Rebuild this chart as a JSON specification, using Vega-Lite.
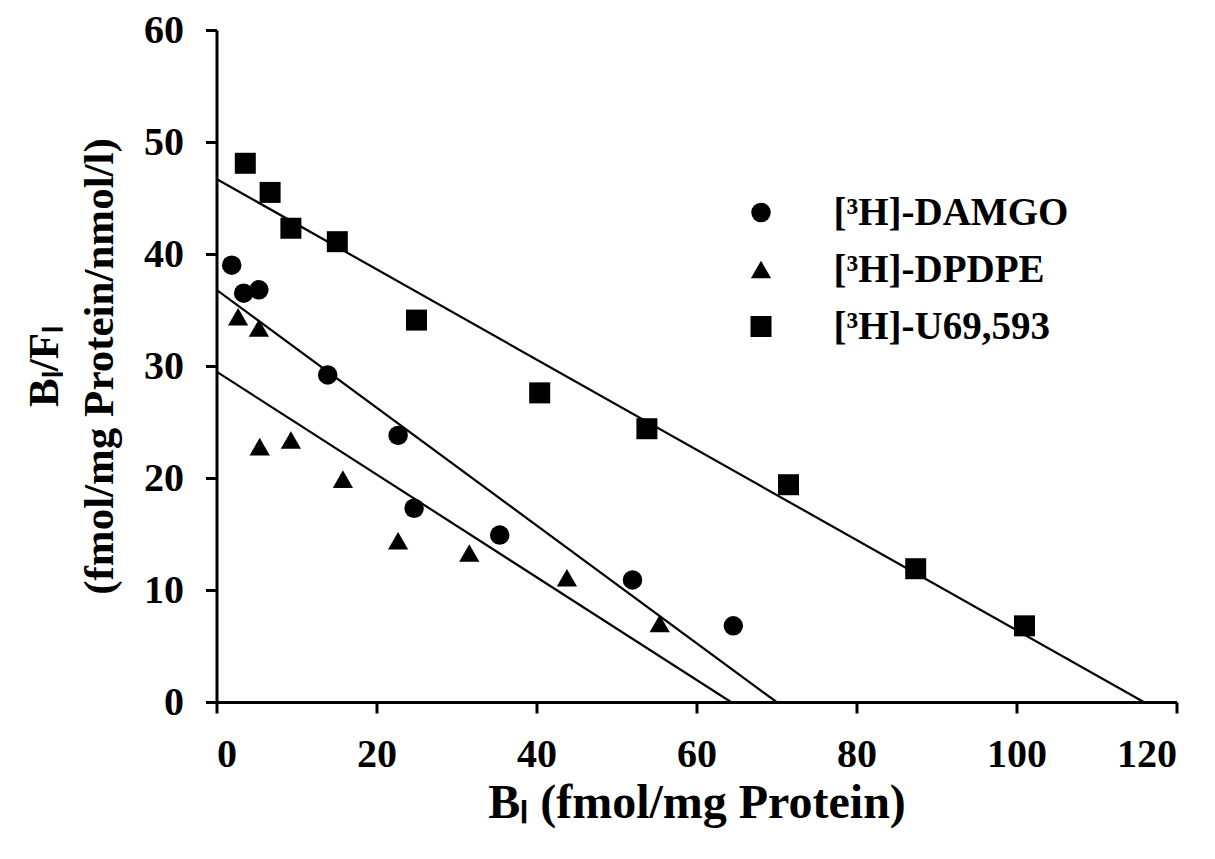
{
  "$schema": "https://vega.github.io/schema/vega-lite/v6.json",
  "width": 960,
  "height": 672,
  "autosize": {"type": "none"},
  "padding": {"left": 216.5, "top": 30, "right": 38.5, "bottom": 157},
  "background": "white",
  "config": {
    "font": "Liberation Serif",
    "view": {"stroke": null},
    "axis": {
      "grid": false,
      "domainColor": "black",
      "domainWidth": 3,
      "tickColor": "black",
      "tickWidth": 3,
      "tickSize": 11,
      "labelColor": "black",
      "labelFont": "Liberation Serif",
      "labelFontSize": 40,
      "labelFontWeight": "bold",
      "titleColor": "black",
      "titleFont": "Liberation Serif",
      "titleFontWeight": "bold"
    }
  },
  "datasets": {
    "points": [
      {"series": "[³H]-DAMGO", "bl": 1.9, "blfl": 39.0},
      {"series": "[³H]-DAMGO", "bl": 3.4, "blfl": 36.5},
      {"series": "[³H]-DAMGO", "bl": 5.3, "blfl": 36.8},
      {"series": "[³H]-DAMGO", "bl": 13.9, "blfl": 29.2},
      {"series": "[³H]-DAMGO", "bl": 22.7, "blfl": 23.8},
      {"series": "[³H]-DAMGO", "bl": 24.7, "blfl": 17.3},
      {"series": "[³H]-DAMGO", "bl": 35.4, "blfl": 14.9},
      {"series": "[³H]-DAMGO", "bl": 52.0, "blfl": 10.9},
      {"series": "[³H]-DAMGO", "bl": 64.6, "blfl": 6.8},
      {"series": "[³H]-DPDPE", "bl": 2.7, "blfl": 34.4},
      {"series": "[³H]-DPDPE", "bl": 5.3, "blfl": 33.4},
      {"series": "[³H]-DPDPE", "bl": 5.4, "blfl": 22.8},
      {"series": "[³H]-DPDPE", "bl": 9.3, "blfl": 23.4},
      {"series": "[³H]-DPDPE", "bl": 15.8, "blfl": 19.9},
      {"series": "[³H]-DPDPE", "bl": 22.7, "blfl": 14.4},
      {"series": "[³H]-DPDPE", "bl": 31.6, "blfl": 13.3},
      {"series": "[³H]-DPDPE", "bl": 43.8, "blfl": 11.1},
      {"series": "[³H]-DPDPE", "bl": 55.4, "blfl": 7.0},
      {"series": "[³H]-U69,593", "bl": 3.6, "blfl": 48.1},
      {"series": "[³H]-U69,593", "bl": 6.7, "blfl": 45.5},
      {"series": "[³H]-U69,593", "bl": 9.3, "blfl": 42.3},
      {"series": "[³H]-U69,593", "bl": 15.1, "blfl": 41.1},
      {"series": "[³H]-U69,593", "bl": 25.0, "blfl": 34.1},
      {"series": "[³H]-U69,593", "bl": 40.4, "blfl": 27.6},
      {"series": "[³H]-U69,593", "bl": 53.8, "blfl": 24.4},
      {"series": "[³H]-U69,593", "bl": 71.5, "blfl": 19.4},
      {"series": "[³H]-U69,593", "bl": 87.4, "blfl": 11.9},
      {"series": "[³H]-U69,593", "bl": 101.0, "blfl": 6.8}
    ],
    "fits": [
      {"series": "[³H]-DAMGO", "bl": 0, "blfl": 36.8},
      {"series": "[³H]-DAMGO", "bl": 70.0, "blfl": 0},
      {"series": "[³H]-DPDPE", "bl": 0, "blfl": 29.5},
      {"series": "[³H]-DPDPE", "bl": 64.3, "blfl": 0},
      {"series": "[³H]-U69,593", "bl": 0, "blfl": 46.7},
      {"series": "[³H]-U69,593", "bl": 115.9, "blfl": 0}
    ]
  },
  "layer": [
    {
      "data": {"name": "fits"},
      "mark": {"type": "line", "color": "black", "strokeWidth": 2.2, "clip": true},
      "encoding": {
        "x": {"field": "bl", "type": "quantitative"},
        "y": {"field": "blfl", "type": "quantitative"},
        "detail": {"field": "series"}
      }
    },
    {
      "data": {"name": "points"},
      "mark": {"type": "point", "filled": true, "color": "black", "opacity": 1},
      "encoding": {
        "x": {
          "field": "bl",
          "type": "quantitative",
          "scale": {"domain": [0, 120], "nice": false, "zero": false},
          "axis": {
            "values": [0, 20, 40, 60, 80, 100, 120],
            "labelPadding": 21,
            "titlePadding": 5,
            "titleFontSize": 48,
            "title": "Bₗ (fmol/mg Protein)"
          }
        },
        "y": {
          "field": "blfl",
          "type": "quantitative",
          "scale": {"domain": [0, 60], "nice": false, "zero": false},
          "axis": {
            "values": [0, 10, 20, 30, 40, 50, 60],
            "labelPadding": 22,
            "titlePadding": 22,
            "titleFontSize": 43,
            "titleLineHeight": 55,
            "title": ["Bₗ/Fₗ", "(fmol/mg Protein/nmol/l)"]
          }
        },
        "shape": {
          "field": "series",
          "type": "nominal",
          "scale": {
            "domain": ["[³H]-DAMGO", "[³H]-DPDPE", "[³H]-U69,593"],
            "range": ["circle", "triangle-up", "square"]
          },
          "legend": {
            "title": null,
            "orient": "none",
            "legendX": 525,
            "legendY": 163,
            "padding": 0,
            "labelFont": "Liberation Serif",
            "labelFontSize": 39,
            "labelFontWeight": "bold",
            "labelColor": "black",
            "labelLimit": 0,
            "labelOffset": 53,
            "rowPadding": 17,
            "symbolFillColor": "black",
            "symbolStrokeColor": "black",
            "symbolOpacity": 1
          }
        },
        "size": {
          "field": "series",
          "type": "nominal",
          "scale": {
            "domain": ["[³H]-DAMGO", "[³H]-DPDPE", "[³H]-U69,593"],
            "range": [380, 441, 306]
          },
          "legend": {
            "title": null,
            "orient": "none",
            "legendX": 525,
            "legendY": 163,
            "padding": 0,
            "labelFont": "Liberation Serif",
            "labelFontSize": 39,
            "labelFontWeight": "bold",
            "labelColor": "black",
            "labelLimit": 0,
            "labelOffset": 53,
            "rowPadding": 17,
            "symbolFillColor": "black",
            "symbolStrokeColor": "black",
            "symbolOpacity": 1
          }
        }
      }
    }
  ]
}
